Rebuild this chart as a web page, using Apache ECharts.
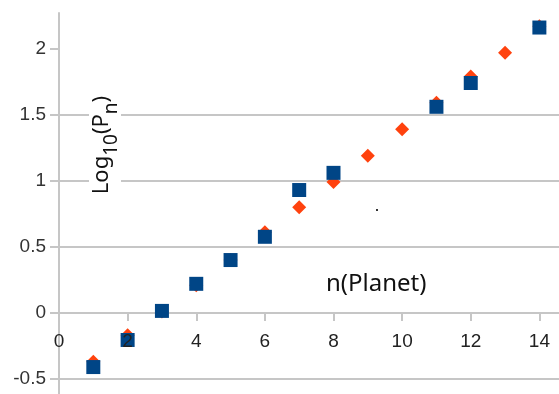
<!DOCTYPE html>
<html>
<head>
<meta charset="utf-8">
<script src="https://cdn.jsdelivr.net/npm/echarts@6/dist/echarts.min.js"></script>
<style>
  html, body { margin: 0; padding: 0; background: #fff; }
  #chart { width: 559px; height: 394px; }
</style>
</head>
<body>
<div id="chart"></div>
<script>
// planet number vs log10 of period
const predictedN = [1, 2, 3, 4, 5, 6, 7, 8, 9, 10, 11, 12, 13, 14];
const predictedLog = [-0.37, -0.17, 0.01, 0.21, 0.40, 0.61, 0.80, 0.99, 1.19, 1.39, 1.59, 1.79, 1.97, 2.17];
const observedN = [1, 2, 3, 4, 5, 6, 7, 8, 11, 12, 14];
const observedLog = [-0.41, -0.205, 0.015, 0.22, 0.40, 0.576, 0.93, 1.06, 1.56, 1.74, 2.16];
const yTicks = [-0.5, 0, 0.5, 1, 1.5, 2];

const chart = echarts.init(document.getElementById('chart'));

const gridColor = '#c6c6c6';
const labelFont = 'Liberation Sans';

const yMin = -1;
const yMax = 2.27;
const gridTop = 13;
const gridBottom = -51;
// move the x axis up to the y = 0 line
const plotH = 394 - gridTop - gridBottom;
const xAxisOffset = -(0 - yMin) / (yMax - yMin) * plotH;

const option = {
  backgroundColor: '#fff',
  animation: false,
  grid: {
    left: 59,
    right: -49,
    top: gridTop,
    bottom: gridBottom,
    outerBoundsMode: 'none',
    containLabel: false,
  },
  xAxis: {
    type: 'value',
    min: 0,
    max: 16,
    interval: 2,
    offset: xAxisOffset,
    zlevel: 1,
    // the y split line at 0 already draws this line
    axisLine: {
      show: false,
      onZero: false,
    },
    axisTick: {
      show: true,
      length: 8,
      lineStyle: { color: gridColor, width: 2 },
    },
    axisLabel: {
      margin: 19,
      color: '#222',
      fontFamily: labelFont,
      fontSize: 19,
    },
    splitLine: { show: false },
  },
  yAxis: {
    type: 'value',
    min: yMin,
    max: yMax,
    interval: 0.5,
    axisLine: {
      show: true,
      onZero: false,
      lineStyle: { color: gridColor, width: 2 },
    },
    axisTick: {
      show: true,
      length: 9,
      customValues: yTicks,
      lineStyle: { color: gridColor, width: 2 },
    },
    axisLabel: {
      margin: 13,
      color: '#333',
      fontFamily: labelFont,
      fontSize: 19,
      customValues: yTicks,
    },
    splitLine: {
      showMaxLine: false,
      lineStyle: { color: gridColor, width: 2 },
    },
  },
  series: [
    {
      name: 'predicted',
      type: 'scatter',
      data: predictedN.map((n, i) => [n, predictedLog[i]]),
      symbol: 'diamond',
      symbolSize: 14,
      itemStyle: { color: '#ff420e', opacity: 1 },
      z: 2,
    },
    {
      name: 'observed',
      type: 'scatter',
      data: observedN.map((n, i) => [n, observedLog[i]]),
      symbol: 'rect',
      symbolSize: 14,
      itemStyle: { color: '#004586', opacity: 1 },
      z: 3,
    },
  ],
  graphic: [
    {
      type: 'text',
      x: 105,
      y: 145,
      rotation: Math.PI / 2,
      z: 10,
      style: {
        text: '{m|Log}{s|10}{m|(P}{s|n}{m|)}',
        align: 'center',
        verticalAlign: 'middle',
        backgroundColor: '#fff',
        padding: [2, 6, 2, 6],
        rich: {
          m: { fontFamily: 'Noto Sans', fontSize: 22, lineHeight: 28, verticalAlign: 'top', fill: '#111' },
          s: { fontFamily: 'Noto Sans', fontSize: 19, lineHeight: 24, verticalAlign: 'top', padding: [11, 0, 0, 0], fill: '#111' },
        },
      },
    },
    {
      type: 'text',
      x: 326,
      y: 284,
      z: 10,
      style: {
        text: 'n(Planet)',
        fontFamily: 'Noto Sans',
        fontSize: 24,
        fill: '#111',
        align: 'left',
        verticalAlign: 'middle',
      },
    },
    {
      type: 'rect',
      shape: { x: 376, y: 209, width: 2, height: 2 },
      style: { fill: '#333' },
    },
  ],
};

chart.setOption(option);
</script>
</body>
</html>
